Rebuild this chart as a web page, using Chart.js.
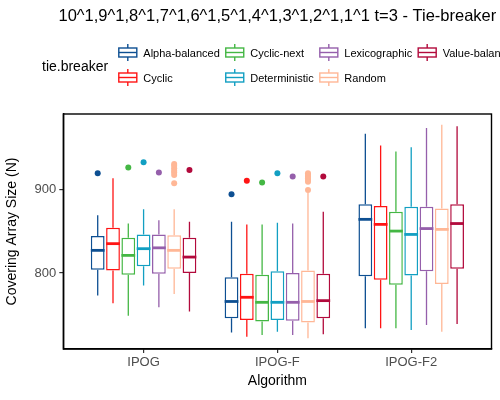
<!DOCTYPE html>
<html>
<head>
<meta charset="utf-8">
<script src="https://cdn.jsdelivr.net/npm/chart.js@4"></script>
<style>
	html, body { margin: 0; padding: 0; background: #fff; }
	#wrap { width: 500px; height: 400px; }
</style>
</head>
<body>
<div id="wrap"><canvas id="chart_box"></canvas></div>
<script>
"use strict";

var chartTitle = '10^1,9^1,8^1,7^1,6^1,5^1,4^1,3^1,2^1,1^1 t=3 - Tie-breaker';
var algorithms = ['IPOG', 'IPOG-F', 'IPOG-F2'];
var tieBreakers = ['Alpha-balanced', 'Cyclic', 'Cyclic-next', 'Deterministic', 'Lexicographic', 'Random', 'Value-balanced'];
var colors = ['#0d4f92', '#ff1414', '#44b744', '#129fc2', '#955fab', '#ffb796', '#b20a3c'];
var yTicks = [800, 900];

// one row per tie breaker, one value per algorithm
var whiskerLow = [
	[773, 729, 734],
	[764, 724, 734],
	[749, 726, 734],
	[785, 730, 732],
	[759, 726, 738],
	[775, 722, 730],
	[754, 727, 739]
];
var q1 = [
	[804, 746, 796],
	[803, 744, 792],
	[798, 742, 786],
	[808, 744, 797],
	[799, 743, 802],
	[805, 741, 787],
	[800, 746, 805]
];
var median = [
	[827, 766, 864],
	[835, 771, 858],
	[821, 765, 850],
	[829, 765, 846],
	[830, 765, 853],
	[827, 766, 852],
	[819, 767, 859]
];
var q3 = [
	[844, 795, 882],
	[854, 799, 880],
	[842, 798, 873],
	[846, 802, 879],
	[846, 800, 879],
	[845, 803, 877],
	[842, 799, 882]
];
var whiskerHigh = [
	[869, 861, 966],
	[913, 858, 952],
	[859, 858, 945],
	[876, 860, 950],
	[863, 859, 973],
	[876, 896, 977],
	[861, 873, 975]
];
var outliers = [
	[[919], [894], []],
	[[], [910], []],
	[[926], [908], []],
	[[932], [919], []],
	[[920], [915], []],
	[[930, 928, 925, 922, 920, 917, 907], [919, 917, 915, 913, 911, 909, 899], []],
	[[923], [915], []]
];

var FONT = "'Liberation Sans', Arial, sans-serif";

var datasets = tieBreakers.map(function (name, i) {
	return {
		label: name,
		data: algorithms.map(function (a, j) {
			return { x: j + 1, y: [q1[i][j], q3[i][j]] };
		}),
		backgroundColor: '#ffffff',
		borderColor: colors[i],
		borderWidth: 1.5,
		borderSkipped: false,
		barPercentage: 0.9,
		categoryPercentage: 0.8
	};
});

function eachBox(chart, fn) {
	chart.data.datasets.forEach(function (ds, i) {
		var meta = chart.getDatasetMeta(i);
		meta.data.forEach(function (el, j) {
			fn(el, i, j);
		});
	});
}

var boxParts = {
	id: 'boxParts',
	beforeDatasetsDraw: function (chart) {
		var ctx = chart.ctx, y = chart.scales.y;
		ctx.save();
		eachBox(chart, function (el, i, j) {
			ctx.strokeStyle = colors[i];
			ctx.lineWidth = 1.3;
			ctx.beginPath();
			ctx.moveTo(el.x, y.getPixelForValue(whiskerHigh[i][j]));
			ctx.lineTo(el.x, y.getPixelForValue(q3[i][j]));
			ctx.moveTo(el.x, y.getPixelForValue(q1[i][j]));
			ctx.lineTo(el.x, y.getPixelForValue(whiskerLow[i][j]));
			ctx.stroke();
			ctx.fillStyle = colors[i];
			outliers[i][j].forEach(function (v) {
				ctx.beginPath();
				ctx.arc(el.x, y.getPixelForValue(v), 3, 0, Math.PI * 2);
				ctx.fill();
			});
		});
		ctx.restore();
	},
	afterDatasetsDraw: function (chart) {
		var ctx = chart.ctx, y = chart.scales.y;
		ctx.save();
		eachBox(chart, function (el, i, j) {
			var py = y.getPixelForValue(median[i][j]);
			ctx.strokeStyle = colors[i];
			ctx.lineWidth = 2.8;
			ctx.beginPath();
			ctx.moveTo(el.x - el.width / 2, py);
			ctx.lineTo(el.x + el.width / 2, py);
			ctx.stroke();
		});
		ctx.restore();
	},
	afterDraw: function (chart) {
		var ctx = chart.ctx, area = chart.chartArea;
		ctx.save();
		// panel border
		ctx.strokeStyle = '#000';
		ctx.lineWidth = 1.4;
		ctx.strokeRect(area.left, area.top, area.right - area.left, area.bottom - area.top);

		// title, centred on the panel
		ctx.fillStyle = '#000';
		ctx.font = '16.5px ' + FONT;
		ctx.textAlign = 'center';
		ctx.textBaseline = 'middle';
		ctx.fillText(chartTitle, (area.left + area.right) / 2, 16);

		// legend
		ctx.textAlign = 'left';
		ctx.font = '14px ' + FONT;
		ctx.fillText('tie.breaker', 42, 67);
		ctx.font = '11px ' + FONT;
		var rows = [52.5, 77.5];
		var x = 118.3;
		for (var c = 0; c * 2 < tieBreakers.length; c++) {
			var maxW = 0;
			for (var r = 0; r < 2; r++) {
				var k = c * 2 + r;
				if (k >= tieBreakers.length) break;
				var cy = rows[r], cx = x + 9.5;
				ctx.strokeStyle = colors[k];
				ctx.lineWidth = 1.4;
				ctx.beginPath();
				ctx.moveTo(cx, cy - 8.5);
				ctx.lineTo(cx, cy + 8.5);
				ctx.stroke();
				ctx.fillStyle = '#fff';
				ctx.fillRect(x + 0.5, cy - 4.5, 18, 9);
				ctx.strokeRect(x + 0.5, cy - 4.5, 18, 9);
				ctx.beginPath();
				ctx.moveTo(x + 0.5, cy);
				ctx.lineTo(x + 18.5, cy);
				ctx.stroke();
				ctx.fillStyle = '#000';
				ctx.fillText(tieBreakers[k], x + 25, cy + 1.5);
				maxW = Math.max(maxW, ctx.measureText(tieBreakers[k]).width);
			}
			x += 25 + maxW + 5.5;
		}
		ctx.restore();
	}
};

var boxChart = new Chart('chart_box', {
	type: 'bar',
	data: { datasets: datasets },
	plugins: [boxParts],
	options: {
		responsive: true,
		maintainAspectRatio: false,
		animation: false,
		events: [],
		layout: { padding: { top: 114, left: 0, right: 8.5, bottom: 0 } },
		plugins: {
			legend: { display: false },
			title: { display: false },
			tooltip: { enabled: false }
		},
		scales: {
			x: {
				type: 'linear',
				min: 0.4,
				max: 3.6,
				offset: false,
				afterBuildTicks: function (axis) {
					axis.ticks = algorithms.map(function (a, j) { return { value: j + 1 }; });
				},
				afterFit: function (axis) { axis.height = 51; },
				ticks: {
					autoSkip: false,
					maxRotation: 0,
					padding: 2,
					color: '#4d4d4d',
					font: { family: FONT, size: 13 },
					callback: function (v) { return algorithms[v - 1]; }
				},
				grid: { offset: false, drawOnChartArea: false, drawTicks: true, tickLength: 4, color: '#333', lineWidth: 1.2 },
				border: { display: true, color: '#000', width: 1.4 },
				title: {
					display: true,
					text: 'Algorithm',
					color: '#000',
					font: { family: FONT, size: 14 },
					padding: { top: 0, bottom: 10 }
				}
			},
			y: {
				min: 709.3,
				max: 989.7,
				beginAtZero: false,
				afterBuildTicks: function (axis) {
					axis.ticks = yTicks.map(function (v) { return { value: v }; });
				},
				afterFit: function (axis) { axis.width = 63.3; },
				ticks: {
					padding: 3,
					color: '#4d4d4d',
					font: { family: FONT, size: 13 },
					callback: function (v) { return v; }
				},
				grid: { drawOnChartArea: false, drawTicks: true, tickLength: 4, color: '#333', lineWidth: 1.2 },
				border: { display: true, color: '#000', width: 1.4 },
				title: {
					display: true,
					text: 'Covering Array Size (N)',
					color: '#000',
					font: { family: FONT, size: 14 },
					padding: { top: 4, bottom: 0 }
				}
			}
		}
	}
});
</script>
</body>
</html>
